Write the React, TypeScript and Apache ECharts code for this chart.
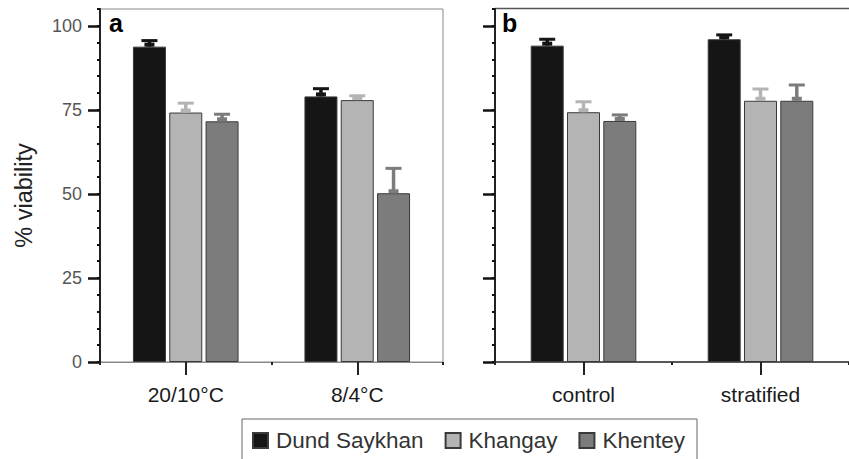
import React, { useEffect, useRef } from "react";
import * as echarts from "echarts";

const categoriesA = ["20/10°C", "8/4°C"];
const categoriesB = ["control", "stratified"];
const seriesNames = ["Dund Saykhan", "Khangay", "Khentey"];
const seriesColors = ["#151515", "#b4b4b4", "#7c7c7c"];

const dundA = [93.8, 79.0];
const khangayA = [74.2, 77.9];
const khenteyA = [71.6, 50.2];
const dundAErr = [1.8, 2.3];
const khangayAErr = [2.8, 1.3];
const khenteyAErr = [2.1, 7.4];

const dundB = [94.1, 96.0];
const khangayB = [74.3, 77.7];
const khenteyB = [71.7, 77.7];
const dundBErr = [1.9, 1.3];
const khangayBErr = [3.1, 3.5];
const khenteyBErr = [1.8, 4.7];

const yTicks = [0, 25, 50, 75, 100];
const yLabel = "% viability";

const FONT = "'Liberation Sans', Arial, sans-serif";
const BAR_W = 33;
const BAR_GAP = 0.1;

export default function App() {
  const ref = useRef<HTMLDivElement>(null);
  useEffect(() => {
    if (!ref.current) return;
    const chart = echarts.init(ref.current, null, { renderer: "svg" });

    const valsA = [dundA, khangayA, khenteyA];
    const errsA = [dundAErr, khangayAErr, khenteyAErr];
    const valsB = [dundB, khangayB, khenteyB];
    const errsB = [dundBErr, khangayBErr, khenteyBErr];

    const mkY = (grid: number, labels: boolean) => [
      {
        type: "value",
        gridIndex: grid,
        position: "left",
        min: 0,
        max: 105,
        interval: 5,
        axisLine: { show: true, lineStyle: { color: "#222", width: 2 } },
        axisTick: {
          show: true,
          customValues: yTicks,
          length: 12,
          lineStyle: { color: "#111", width: 2.5 },
        },
        axisLabel: {
          show: labels,
          customValues: yTicks,
          formatter: (v: number) => (v % 25 === 0 && v <= 100 ? String(v) : ""),
          margin: 18,
          fontSize: 18,
          color: "#555",
          fontFamily: FONT,
        },
        splitLine: { show: false },
      },
      {
        type: "value",
        gridIndex: grid,
        position: "left",
        min: 0,
        max: 105,
        interval: 5,
        axisLine: { show: false },
        axisTick: { show: true, length: 3, lineStyle: { color: "#111", width: 2 } },
        axisLabel: { show: false },
        splitLine: { show: false },
      },
    ];

    const mkX = (grid: number, cats: string[], lineColor: string, lineWidth: number) => [
      {
        type: "category",
        gridIndex: grid,
        position: "bottom",
        data: cats,
        axisLine: { show: true, onZero: false, lineStyle: { color: lineColor, width: lineWidth } },
        axisTick: { show: true, alignWithLabel: true, length: 13, lineStyle: { color: "#222", width: 2 } },
        axisLabel: { margin: 22, fontSize: 21, color: "#1a1a1a", fontFamily: FONT },
        splitLine: { show: false },
      },
      {
        type: "category",
        gridIndex: grid,
        position: "bottom",
        data: cats,
        axisLine: { show: false, onZero: false },
        axisTick: { show: true, length: 3, lineStyle: { color: "#222", width: 2 } },
        axisLabel: { show: false },
        splitLine: { show: false },
      },
    ];

    const series: any[] = [];
    const addPanel = (axisIdx: number, vals: number[][], errs: number[][]) => {
      vals.forEach((v, i) => {
        series.push({
          type: "bar",
          name: seriesNames[i],
          xAxisIndex: axisIdx,
          yAxisIndex: axisIdx,
          data: v,
          barWidth: BAR_W,
          barGap: BAR_GAP * 100 + "%",
          itemStyle: { color: seriesColors[i], borderColor: "#3a3a3a", borderWidth: 1 },
        });
      });
      vals.forEach((v, i) => {
        const off = (i - 1) * BAR_W * (1 + BAR_GAP);
        const color = seriesColors[i];
        series.push({
          type: "custom",
          name: "err-" + seriesNames[i] + axisIdx,
          xAxisIndex: axisIdx,
          yAxisIndex: axisIdx,
          z: 3,
          data: v.map((val, k) => [k, val, errs[i][k]]),
          renderItem: (params: any, api: any) => {
            const base = api.coord([api.value(0), api.value(1)]);
            const top = api.coord([api.value(0), api.value(1) + api.value(2)]);
            const x = base[0] + off;
            return {
              type: "group",
              children: [
                { type: "rect", shape: { x: x - 1.75, y: top[1], width: 3.5, height: base[1] - top[1] }, style: { fill: color } },
                { type: "rect", shape: { x: x - 8, y: top[1] - 1.5, width: 16, height: 3 }, style: { fill: color } },
                { type: "rect", shape: { x: x - 5, y: base[1] - 4, width: 10, height: 4 }, style: { fill: color } },
              ],
            };
          },
        });
      });
    };
    addPanel(0, valsA, errsA);
    addPanel(2, valsB, errsB);

    chart.setOption({
      animation: false,
      grid: [
        { left: 100, top: 9, width: 343, height: 353, show: true, borderColor: "#888", borderWidth: 1, backgroundColor: "transparent" },
        { left: 495, top: 9, width: 354, height: 353, show: false },
      ],
      xAxis: [...mkX(0, categoriesA, "#888", 1), ...mkX(1, categoriesB, "#222", 1.5)],
      yAxis: [...mkY(0, true), ...mkY(1, false)],
      legend: {
        left: 242,
        top: 419,
        orient: "horizontal",
        data: seriesNames,
        icon: "rect",
        itemWidth: 15,
        itemHeight: 15,
        itemGap: 21,
        padding: [10, 12, 30, 10],
        borderColor: "#666",
        borderWidth: 1,
        selectedMode: false,
        textStyle: { fontSize: 22.5, color: "#333", fontFamily: FONT, padding: [0, 0, 0, 3] },
      },
      graphic: [
        {
          type: "text",
          x: 24,
          y: 195.5,
          rotation: Math.PI / 2,
          style: { text: yLabel, fontSize: 23.5, fill: "#222", fontFamily: FONT, align: "center", verticalAlign: "middle" },
        },
        {
          type: "text",
          x: 109,
          y: 23,
          style: { text: "a", fontSize: 25, fontWeight: "bold", fill: "#000", fontFamily: FONT, align: "left", verticalAlign: "middle" },
        },
        {
          type: "text",
          x: 502,
          y: 23,
          style: { text: "b", fontSize: 25, fontWeight: "bold", fill: "#000", fontFamily: FONT, align: "left", verticalAlign: "middle" },
        },
        {
          type: "line",
          shape: { x1: 495, y1: 8.5, x2: 849, y2: 8.5 },
          style: { stroke: "#555", lineWidth: 1.5 },
        },
      ],
      series,
    });
    return () => chart.dispose();
  }, []);
  return (
    <div
      ref={ref}
      style={{ position: "fixed", left: 0, top: 0, width: 849, height: 459, background: "#fff" }}
    />
  );
}
